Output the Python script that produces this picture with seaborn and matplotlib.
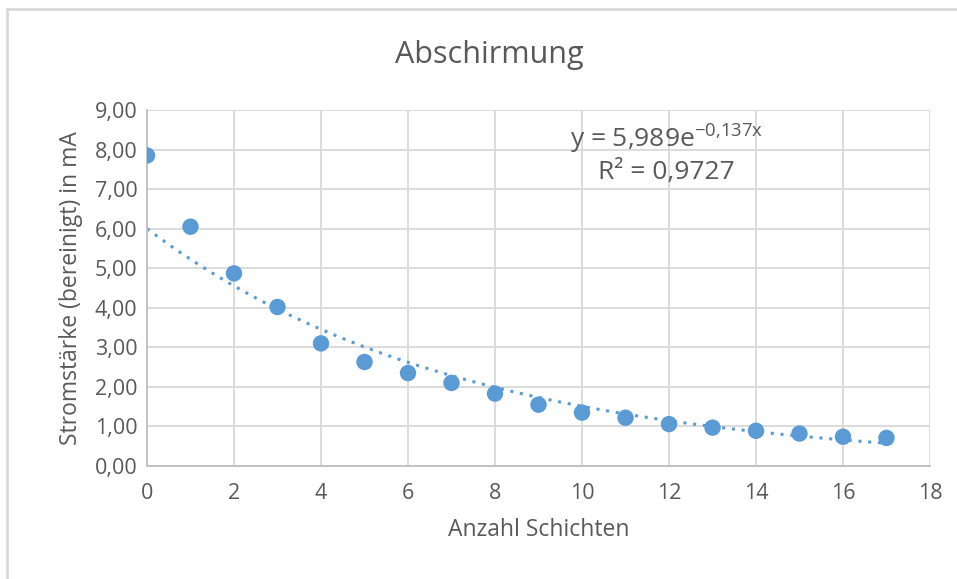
import numpy as np
import pandas as pd
import matplotlib
matplotlib.use("Agg")
import matplotlib.pyplot as plt
import seaborn as sns
from matplotlib.lines import Line2D

# =========================
# Daten
# =========================
schichten = [0, 1, 2, 3, 4, 5, 6, 7, 8, 9, 10, 11, 12, 13, 14, 15, 16, 17]
strom = [7.85, 6.05, 4.87, 4.02, 3.10, 2.63, 2.35, 2.10, 1.83, 1.55,
         1.35, 1.22, 1.06, 0.97, 0.89, 0.82, 0.74, 0.71]

y_ticks = [0, 1, 2, 3, 4, 5, 6, 7, 8, 9]
x_ticks = [0, 2, 4, 6, 8, 10, 12, 14, 16, 18]

eq_text = r"y = 5,989e$^{\mathregular{-0{,}137x}}$"
r2_text = "R² = 0,9727"

df = pd.DataFrame({"Anzahl Schichten": schichten, "Strom": strom})

# Exponentieller Trend (wie Excel: Fit auf ln(y))
b, ln_a = np.polyfit(df["Anzahl Schichten"], np.log(df["Strom"]), 1)
x_fit = np.linspace(min(schichten), max(schichten), 200)
y_fit = np.exp(ln_a) * np.exp(b * x_fit)

# =========================
# Plot
# =========================
sns.set_style("white")
plt.rcParams["font.family"] = ["Open Sans", "DejaVu Sans"]

grey = "#595959"
blue = "#5B9BD5"

fig = plt.figure(figsize=(9.57, 5.79), dpi=100)
ax = fig.add_axes([147 / 957, 1 - 466 / 579, (930 - 147) / 957, (466 - 110) / 579])

sns.lineplot(x=x_fit, y=y_fit, ax=ax, color=blue, linestyle=(0, (1, 2.2)),
             linewidth=2.2, zorder=2)
sns.scatterplot(data=df, x="Anzahl Schichten", y="Strom", ax=ax, color=blue,
                s=140, edgecolor="none", zorder=3)

ax.set_xlim(0, 18)
ax.set_ylim(0, 9)
ax.set_xticks(x_ticks)
ax.set_yticks(y_ticks)
ax.set_yticklabels([f"{v:.2f}".replace(".", ",") for v in y_ticks])
ax.grid(True, color="#D9D9D9", linewidth=1.3)
ax.set_axisbelow(True)
for s in ["top", "right"]:
    ax.spines[s].set_visible(False)
for s in ["left", "bottom"]:
    ax.spines[s].set_color("#BFBFBF")
    ax.spines[s].set_linewidth(1.3)
ax.tick_params(axis="both", length=0, labelsize=15.5, colors=grey)
ax.tick_params(axis="y", pad=7)
ax.tick_params(axis="x", pad=12)

ax.set_xlabel("Anzahl Schichten", fontsize=16.5, color=grey, labelpad=10)
ax.set_ylabel("Stromstärke (bereinigt) in mA", fontsize=16.5, color=grey, labelpad=8)

fig.text(489 / 957, 1 - 55 / 579, "Abschirmung", fontsize=22, color=grey,
         ha="center", va="center")
ax.text(11.95, 8.3, eq_text, fontsize=19, color=grey, ha="center", va="center")
ax.text(11.95, 7.42, r2_text, fontsize=19, color=grey, ha="center", va="center")

# Rahmen
fig.add_artist(Line2D([7 / 957, 7 / 957], [0, 1 - 9 / 579], transform=fig.transFigure,
                      color="#D9D9D9", linewidth=2))
fig.add_artist(Line2D([7 / 957, 1], [1 - 9 / 579, 1 - 9 / 579], transform=fig.transFigure,
                      color="#D9D9D9", linewidth=2))

fig.savefig("out.png", dpi=100)
